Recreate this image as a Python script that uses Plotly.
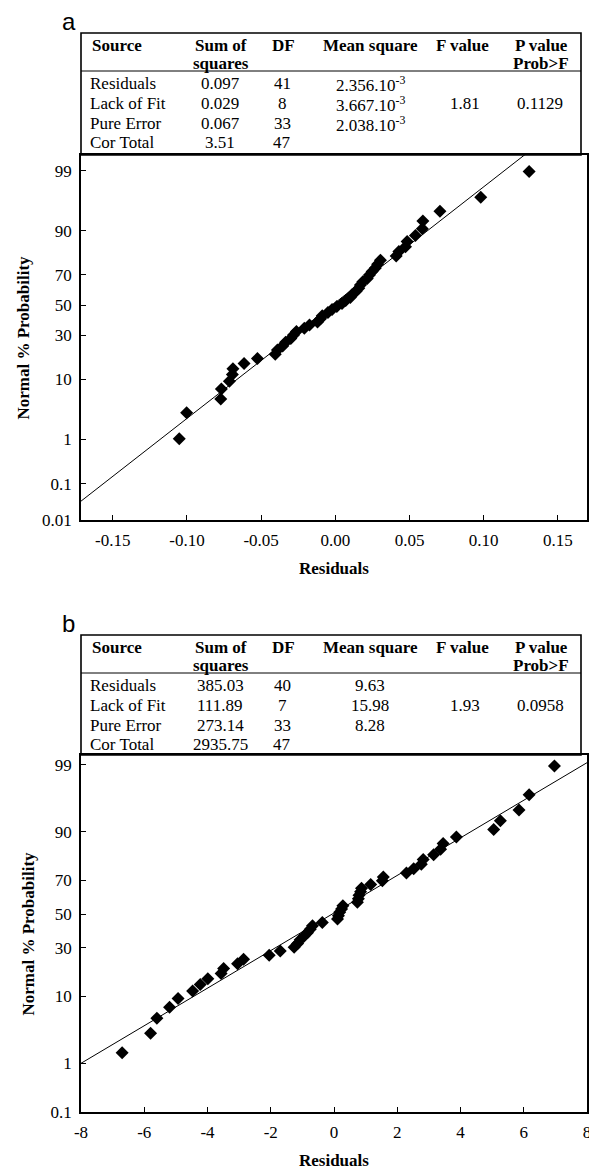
import plotly.graph_objects as go
from statistics import NormalDist

W, H = 589, 1170
nd = NormalDist()

# ---------------- data: panel a ----------------
a_resid = [-0.1052, -0.1002, -0.0772, -0.0768, -0.0714, -0.0694, -0.0690, -0.0615,
           -0.0525, -0.0405, -0.0390, -0.0355, -0.0335, -0.0300, -0.0282, -0.0262,
           -0.0209, -0.0174, -0.0120, -0.0100, -0.0088, -0.0050, -0.0022, 0.0010,
           0.0045, 0.0070, 0.0101, 0.0113, 0.0140, 0.0158, 0.0169, 0.0185,
           0.0215, 0.0230, 0.0248, 0.0270, 0.0285, 0.0304, 0.0410, 0.0428,
           0.0473, 0.0484, 0.0540, 0.0586, 0.0590, 0.0705, 0.0980, 0.1306]
a_prob = [1.04, 3.13, 5.21, 7.29, 9.38, 11.46, 13.54, 15.63, 17.71, 19.79, 21.88, 23.96,
          26.04, 28.13, 30.21, 32.29, 34.38, 36.46, 38.54, 40.63, 42.71, 44.79, 46.88, 48.96,
          51.04, 53.13, 55.21, 57.29, 59.38, 61.46, 63.54, 65.63, 67.71, 69.79, 71.88, 73.96,
          76.04, 78.13, 80.21, 82.29, 84.38, 86.46, 88.54, 90.63, 92.71, 94.79, 96.88, 98.96]
a_fit_mean, a_fit_sd = -0.0021, 0.0499
a_xticks = [-0.15, -0.10, -0.05, 0.00, 0.05, 0.10, 0.15]
a_xticktext = ["-0.15", "-0.10", "-0.05", "0.00", "0.05", "0.10", "0.15"]
a_yticks = [0.01, 0.1, 1, 10, 30, 50, 70, 90, 99]
a_yticktext = ["0.01", "0.1", "1", "10", "30", "50", "70", "90", "99"]

a_source = ["Residuals", "Lack of Fit", "Pure Error", "Cor Total"]
a_ss = ["0.097", "0.029", "0.067", "3.51"]
a_df = ["41", "8", "33", "47"]
a_ms = ["2.356.10<sup>-3</sup>", "3.667.10<sup>-3</sup>", "2.038.10<sup>-3</sup>", ""]
a_f = ["", "1.81", "", ""]
a_p = ["", "0.1129", "", ""]

# ---------------- data: panel b ----------------
b_resid = [-6.70, -5.80, -5.60, -5.20, -4.93, -4.47, -4.23, -3.99,
           -3.57, -3.49, -3.05, -2.86, -2.05, -1.70, -1.26, -1.15,
           -1.07, -0.95, -0.84, -0.75, -0.68, -0.37, 0.11, 0.14,
           0.18, 0.24, 0.28, 0.74, 0.77, 0.79, 0.84, 0.87,
           1.16, 1.53, 1.56, 2.29, 2.52, 2.76, 2.82, 3.15,
           3.37, 3.45, 3.87, 5.05, 5.26, 5.85, 6.17, 6.97]
b_prob = [1.52, 3.13, 5.21, 7.29, 9.38, 11.46, 13.54, 15.63, 17.71, 19.79, 21.88, 23.96,
          26.04, 28.13, 30.21, 32.29, 34.38, 36.46, 38.54, 40.63, 42.71, 44.79, 46.88, 48.96,
          51.04, 53.13, 55.21, 57.29, 59.38, 61.46, 63.54, 65.63, 67.71, 69.79, 71.88, 73.96,
          76.04, 78.13, 80.21, 82.29, 84.38, 86.46, 88.54, 90.63, 92.71, 94.79, 96.88, 98.96]
b_fit_mean, b_fit_sd = -0.055, 3.41
b_xticks = [-8, -6, -4, -2, 0, 2, 4, 6, 8]
b_xticktext = ["-8", "-6", "-4", "-2", "0", "2", "4", "6", "8"]
b_yticks = [0.1, 1, 10, 30, 50, 70, 90, 99]
b_yticktext = ["0.1", "1", "10", "30", "50", "70", "90", "99"]

b_source = ["Residuals", "Lack of Fit", "Pure Error", "Cor Total"]
b_ss = ["385.03", "111.89", "273.14", "2935.75"]
b_df = ["40", "7", "33", "47"]
b_ms = ["9.63", "15.98", "8.28", ""]
b_f = ["", "1.93", "", ""]
b_p = ["", "0.0958", "", ""]

headers = [("Source", None), ("Sum of", "squares"), ("DF", None), ("Mean square", None),
           ("F value", None), ("P value", "Prob>F")]

# ---------------- helpers ----------------
def px(x):
    return x / W


def py(y):
    return 1 - y / H


def z(p):
    return nd.inv_cdf(p / 100.0)


SERIF = "Liberation Serif, Times New Roman, Times, serif"
FS = 17
fig = go.Figure()
annotations = []
shapes = []


def panel(idx, resid, prob, mean, sd, xr, yr, xt, xtt, yt, ytt, top, bottom, ytitle_x):
    xa = "xaxis" if idx == 1 else "xaxis%d" % idx
    ya = "yaxis" if idx == 1 else "yaxis%d" % idx
    xref = "x" if idx == 1 else "x%d" % idx
    yref = "y" if idx == 1 else "y%d" % idx
    fig.add_trace(go.Scatter(x=[xr[0], xr[1]],
                             y=[(xr[0] - mean) / sd, (xr[1] - mean) / sd],
                             mode="lines", line=dict(color="black", width=1),
                             xaxis=xref, yaxis=yref, showlegend=False, hoverinfo="skip"))
    fig.add_trace(go.Scatter(x=resid, y=[z(p) for p in prob], mode="markers",
                             marker=dict(symbol="diamond", size=10, color="black"),
                             xaxis=xref, yaxis=yref, showlegend=False, cliponaxis=False))
    common = dict(showline=True, linecolor="black", linewidth=1.6, mirror=True,
                  showgrid=False, zeroline=False, ticks="inside", ticklen=5,
                  tickwidth=1, tickcolor="black", automargin=False,
                  ticklabeloverflow="allow",
                  tickfont=dict(family=SERIF, size=FS, color="black"))
    fig.update_layout(**{
        xa: dict(domain=[px(81), px(587)], range=xr, tickvals=xt, ticktext=xtt,
                 anchor=yref, ticklabelstandoff=4, **common),
        ya: dict(domain=[py(bottom), py(top)], range=yr, tickvals=[z(v) for v in yt],
                 ticktext=ytt, anchor=xref, ticklabelstandoff=4, **common),
    })
    annotations.append(dict(text="<b>Normal % Probability</b>", textangle=-90,
                            x=px(ytitle_x), y=py((top + bottom) / 2), xref="paper", yref="paper",
                            showarrow=False, xanchor="center", yanchor="middle",
                            font=dict(family=SERIF, size=FS, color="black")))
    annotations.append(dict(text="<b>Residuals</b>", x=px(334), y=py(bottom + 48),
                            xref="paper", yref="paper", showarrow=False,
                            xanchor="center", yanchor="middle",
                            font=dict(family=SERIF, size=FS, color="black")))


def table(top, bottom, src, ss, df, ms, f, p, label):
    sep = top + 38
    shapes.append(dict(type="rect", xref="paper", yref="paper", x0=px(81), x1=px(581),
                       y0=py(bottom), y1=py(top), line=dict(color="black", width=1.6)))
    shapes.append(dict(type="line", xref="paper", yref="paper", x0=px(81), x1=px(581),
                       y0=py(sep), y1=py(sep), line=dict(color="black", width=1)))
    hx = [90, 221, 283, 370, 462, 541]
    for i, (h1, h2) in enumerate(headers):
        anchor = "left" if i == 0 else "center"
        annotations.append(dict(text="<b>%s</b>" % h1, x=px(hx[i]), y=py(top + 12.5),
                                xref="paper", yref="paper", showarrow=False,
                                xanchor=anchor, yanchor="middle",
                                font=dict(family=SERIF, size=FS, color="black")))
        if h2:
            annotations.append(dict(text="<b>%s</b>" % h2, x=px(hx[i]), y=py(top + 30.5),
                                    xref="paper", yref="paper", showarrow=False,
                                    xanchor="center", yanchor="middle",
                                    font=dict(family=SERIF, size=FS, color="black")))
    vx = [88, 220, 282, 370, 465, 540]
    rows_y = [top + 50.6, top + 70.6, top + 90.6, top + 109]
    for r in range(4):
        cells = [src[r], ss[r], df[r], ms[r], f[r], p[r]]
        for c, t in enumerate(cells):
            if not t:
                continue
            annotations.append(dict(text=t, x=px(vx[c]), y=py(rows_y[r]),
                                    xref="paper", yref="paper", showarrow=False,
                                    xanchor="left" if c == 0 else "center", yanchor="middle",
                                    font=dict(family=SERIF, size=FS, color="black")))
    annotations.append(dict(text=label, x=px(60), y=py(top - 12), xref="paper", yref="paper",
                            showarrow=False, xanchor="left", yanchor="middle",
                            font=dict(family="Liberation Sans, Arial, sans-serif", size=24,
                                      color="black")))


panel(1, a_resid, a_prob, a_fit_mean, a_fit_sd, [-0.1714, 0.1696], [-3.719, 2.596],
      a_xticks, a_xticktext, a_yticks, a_yticktext, 155, 520, 23)
panel(2, b_resid, b_prob, b_fit_mean, b_fit_sd, [-8, 8], [-3.090, 2.482],
      b_xticks, b_xticktext, b_yticks, b_yticktext, 755, 1112, 28)

table(33, 155, a_source, a_ss, a_df, a_ms, a_f, a_p, "a")
table(635, 755, b_source, b_ss, b_df, b_ms, b_f, b_p, "b")

fig.update_layout(width=W, height=H, margin=dict(l=0, r=0, t=0, b=0), autosize=False,
                  paper_bgcolor="white", plot_bgcolor="white",
                  annotations=annotations, shapes=shapes, showlegend=False)

fig.write_html("out.html", config={"displayModeBar": False},
               post_script="document.body.style.margin='0px';"
                           "document.body.style.overflow='hidden';")
